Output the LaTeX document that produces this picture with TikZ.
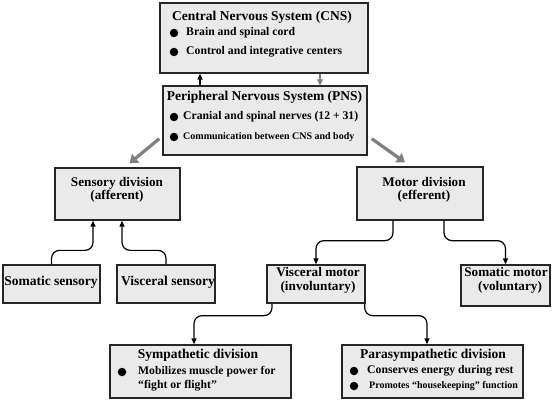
\documentclass[tikz,border=0pt]{standalone}
\usepackage{fontspec}
\setmainfont{Liberation Serif}
\usetikzlibrary{arrows.meta,calc}
\definecolor{boxgray}{HTML}{EAEAEA}
\definecolor{arrgray}{HTML}{808080}
\tikzset{
  box/.style={draw=black!85, line width=1.3pt, fill=boxgray, inner sep=0pt},
  ttl/.style={font=\fontsize{13.5}{13.5}\selectfont\bfseries, inner sep=0pt, align=center},
  itm/.style={font=\fontsize{11.7}{13}\selectfont\bfseries, inner sep=0pt, anchor=west},
  sml/.style={font=\fontsize{10}{12}\selectfont\bfseries, inner sep=0pt, anchor=west},
  dot/.style={circle, fill=black, inner sep=0pt, minimum size=8.5pt},
  barr/.style={draw=black, line width=1.2pt, rounded corners=8pt, -{Triangle[length=6pt,width=5pt]}},
  garr/.style={draw=arrgray, line width=1.2pt, -{Triangle[length=6pt,width=6pt]}},
  bigarr/.style={draw=arrgray, line width=3.2pt, -{Triangle[length=8pt,width=11pt]}},
}
\begin{document}
\begin{tikzpicture}[x=1pt,y=-1pt]
\useasboundingbox[fill=white] (0,0) rectangle (553,401);
% boxes
\node[box, minimum width=208pt, minimum height=70pt] (cns) at (264,38) {};
\node[box, minimum width=204pt, minimum height=69pt] (pns) at (265,120.5) {};
\node[box, minimum width=125pt, minimum height=52pt] (sd) at (117.5,194) {};
\node[box, minimum width=126pt, minimum height=53pt] (md) at (420,193.5) {};
\node[box, minimum width=97pt, minimum height=38pt] (ss) at (51.5,284) {};
\node[box, minimum width=98pt, minimum height=38pt] (vs) at (166,284) {};
\node[box, minimum width=98pt, minimum height=38pt] (vm) at (316,284) {};
\node[box, minimum width=89pt, minimum height=41pt] (sm) at (505.5,285.5) {};
\node[box, minimum width=181pt, minimum height=53pt] (sy) at (200.5,371.5) {};
\node[box, minimum width=181pt, minimum height=53pt] (ps) at (432.5,371.5) {};
% CNS text
\node[ttl] (cnst) at (262,17) {Central Nervous System (CNS)};
\node[dot] (cd1) at (174,33) {};
\node[itm] (ct1) at (186,33) {Brain and spinal cord};
\node[dot] (cd2) at (174,52) {};
\node[itm] (ct2) at (186,52) {Control and integrative centers};
% PNS text
\node[ttl] (pnst) at (264.5,97) {Peripheral Nervous System (PNS)};
\node[dot] (pd1) at (174,117) {};
\node[itm] (pt1) at (183,117) {Cranial and spinal nerves (12 + 31)};
\node[dot] (pd2) at (174,137) {};
\node[sml] (pt2) at (183,137) {Communication between CNS and body};
% divisions
\node[ttl, font=\fontsize{13.2}{13}\selectfont\bfseries] (sdt) at (117,189.5) {Sensory division\\(afferent)};
\node[ttl, font=\fontsize{13.2}{13}\selectfont\bfseries] (mdt) at (424,189.5) {Motor division\\(efferent)};
\node[ttl] (sst) at (51,282) {Somatic sensory};
\node[ttl] (vst) at (168,282) {Visceral sensory};
\node[ttl, font=\fontsize{13.2}{14}\selectfont\bfseries] (vmt) at (318,280) {Visceral motor\\(involuntary)};
\node[ttl, font=\fontsize{13.2}{14}\selectfont\bfseries] (smt) at (506,280) {Somatic motor\\\hspace*{8pt}(voluntary)};
% sympathetic
\node[ttl] (syt) at (198,355) {Sympathetic division};
\node[dot] (sd1) at (122,372) {};
\node[itm] (syl1) at (138,372) {Mobilizes muscle power for};
\node[itm] (syl2) at (138,386) {“fight or flight”};
% parasympathetic
\node[ttl] (pst) at (433,355) {Parasympathetic division};
\node[dot] (psd1) at (354,371) {};
\node[itm] (psl1) at (367,371) {Conserves energy during rest};
\node[dot] (psd2) at (354,386) {};
\node[sml] (psl2) at (369,386) {Promotes “housekeeping” function};
% connectors
\coordinate (up1) at ([xshift=-65pt]pns.north);
\draw[barr] (up1) -- (up1 |- cns.south);
\coordinate (dn1) at ([xshift=56pt]cns.south);
\draw[garr] (dn1) -- (dn1 |- pns.north);
\draw[bigarr] ([xshift=-3pt,yshift=17pt]pns.south west) -- ([xshift=12pt,yshift=4pt]sd.north);
\draw[bigarr] ([xshift=4pt,yshift=17pt]pns.south east) -- ([xshift=-15pt,yshift=4pt]md.north);
\draw[barr] (ss.north) -- ++(0,-14) -| ([xshift=-24.5pt]sd.south);
\draw[barr] (vs.north) -- ++(0,-14) -| ([xshift=4.5pt]sd.south);
\draw[barr] ([xshift=-27pt]md.south) -- ++(0,20) -| (vm.north);
\draw[barr] ([xshift=24pt]md.south) -- ++(0,20) -| (sm.north);
\draw[barr] ([xshift=-44pt]vm.south) -- ++(0,12) -| ([xshift=-6.5pt]sy.north);
\draw[barr] ([xshift=-1pt]vm.south east) -- ++(0,12) -| ([xshift=-5.5pt]ps.north);
\end{tikzpicture}
\end{document}
